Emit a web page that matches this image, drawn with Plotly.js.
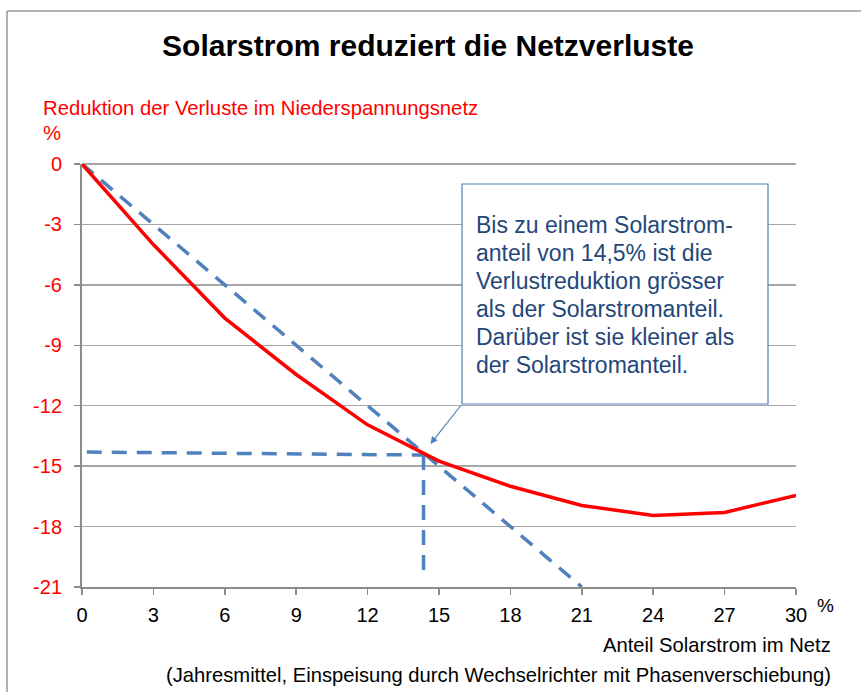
<!DOCTYPE html>
<html>
<head>
<meta charset="utf-8">
<script src="https://cdn.plot.ly/plotly-3.0.1.min.js"></script>
<style>html,body{margin:0;padding:0;background:#fff;}#chart{width:861px;height:692px;}</style>
</head>
<body>
<div id="chart"></div>
<script>
// ---- data ----
const shareX = [0, 3, 6, 9, 12, 15, 18, 21, 24, 27, 30];
const lossReduction = [0, -4.0, -7.65, -10.45, -12.95, -14.75, -16.0, -16.95, -17.45, -17.3, -16.45];
const equalLineX = [0, 21];
const equalLineY = [0, -21];
const crossHX = [0.2, 14.35];
const crossHY = [-14.3, -14.45];
const crossVX = [14.35, 14.35];
const crossVY = [-14.45, -20.6];
const xTicks = [0, 3, 6, 9, 12, 15, 18, 21, 24, 27, 30];
const yTicks = [0, -3, -6, -9, -12, -15, -18, -21];
const titleText = "Solarstrom reduziert die Netzverluste";
const yTitleText = "Reduktion der Verluste im Niederspannungsnetz";
const unitText = "%";
const xTitleText = "Anteil Solarstrom im Netz";
const xSubtitleText = "(Jahresmittel, Einspeisung durch Wechselrichter mit Phasenverschiebung)";
const noteLines = [
  "Bis zu einem Solarstrom-",
  "anteil von 14,5% ist die",
  "Verlustreduktion grösser",
  "als der Solarstromanteil.",
  "Darüber ist sie kleiner als",
  "der Solarstromanteil."
];
const noteTip = [14.64, -13.9];

// ---- layout helpers ----
const W = 861, H = 692;
const M = {l: 82, r: 65, t: 164, b: 105};
const PW = W - M.l - M.r, PH = H - M.t - M.b;
const px = x => (x - M.l) / PW;
const py = y => (H - M.b - y) / PH;
const FONT = "Liberation Sans, Arial, sans-serif";
const BLUE = "#4f81bd";
const GRID = "#a6a6a6";
const AXIS = "#8c8c8c";
const xr = [0, 30], yr = [-21, 0];
const dx = p => xr[0] + (p - M.l) / PW * (xr[1] - xr[0]);
const dy = p => yr[1] - (p - M.t) / PH * (yr[1] - yr[0]);

const traces = [
  {x: equalLineX, y: equalLineY, mode: "lines", line: {color: BLUE, width: 3.5, dash: "15px,10px"}, hoverinfo: "skip"},
  {x: crossHX, y: crossHY, mode: "lines", line: {color: BLUE, width: 3.5, dash: "15px,10px"}, hoverinfo: "skip"},
  {x: crossVX, y: crossVY, mode: "lines", line: {color: BLUE, width: 3.5, dash: "15px,10px"}, hoverinfo: "skip"},
  {x: shareX, y: lossReduction, mode: "lines", line: {color: "#ff0000", width: 3.5}, hoverinfo: "skip"}
];

const noteAnns = noteLines.map((t, i) => ({
  xref: "x", yref: "y", x: dx(474), y: dy(225 + 28 * i), xanchor: "left", yanchor: "middle",
  align: "left", showarrow: false, text: t, font: {family: FONT, size: 23, color: "#24477a"}
}));

const layout = {
  width: W, height: H,
  margin: M,
  paper_bgcolor: "#ffffff", plot_bgcolor: "#ffffff",
  showlegend: false,
  font: {family: FONT},
  title: {text: "<b>" + titleText + "</b>", font: {family: FONT, size: 30, color: "#000"},
          x: 428 / W, xanchor: "center", y: 1 - 45 / H, yanchor: "middle"},
  xaxis: {
    range: xr, tickvals: xTicks, ticktext: xTicks.map(String),
    showgrid: false, zeroline: false,
    showline: true, linecolor: AXIS, linewidth: 2,
    ticks: "outside", ticklen: 6, tickcolor: AXIS, tickwidth: 1.5,
    tickfont: {family: FONT, size: 20, color: "#000"}, ticklabelstandoff: 3
  },
  yaxis: {
    range: yr, tickvals: yTicks, ticktext: yTicks.map(String),
    showgrid: true, gridcolor: GRID, gridwidth: 1.5,
    zeroline: true, zerolinecolor: GRID, zerolinewidth: 1.5,
    showline: true, linecolor: AXIS, linewidth: 2,
    ticks: "outside", ticklen: 6, tickcolor: AXIS, tickwidth: 1.5,
    tickfont: {family: FONT, size: 20, color: "#ff0000"}, ticklabelstandoff: 8
  },
  shapes: [
    {type: "line", xref: "paper", yref: "paper", x0: px(7), x1: px(7), y0: py(H), y1: py(11), line: {color: "#999", width: 1.5}},
    {type: "line", xref: "paper", yref: "paper", x0: px(7), x1: px(W), y0: py(11), y1: py(11), line: {color: "#999", width: 1.5}},
    {type: "rect", xref: "x", yref: "y", x0: dx(462), x1: dx(768), y0: dy(184), y1: dy(404),
     line: {color: BLUE, width: 1.2}, fillcolor: "#ffffff", layer: "above"}
  ],
  annotations: [
    {xref: "paper", yref: "paper", x: px(41), y: py(108), xanchor: "left", yanchor: "middle", showarrow: false,
     text: yTitleText, font: {family: FONT, size: 20.3, color: "#ff0000"}},
    {xref: "paper", yref: "paper", x: px(41), y: py(133), xanchor: "left", yanchor: "middle", showarrow: false,
     text: unitText, font: {family: FONT, size: 20.3, color: "#ff0000"}},
    {xref: "paper", yref: "paper", x: px(815), y: py(605), xanchor: "left", yanchor: "middle", showarrow: false,
     text: unitText, font: {family: FONT, size: 19, color: "#000"}},
    {xref: "paper", yref: "paper", x: px(833), y: py(645), xanchor: "right", yanchor: "middle", showarrow: false,
     text: xTitleText, font: {family: FONT, size: 20.2, color: "#000"}},
    {xref: "paper", yref: "paper", x: px(833), y: py(675), xanchor: "right", yanchor: "middle", showarrow: false,
     text: xSubtitleText, font: {family: FONT, size: 20.2, color: "#000"}},
    ...noteAnns,
    {xref: "x", yref: "y", x: noteTip[0], y: noteTip[1], axref: "x", ayref: "y", ax: dx(462), ay: dy(404),
     text: "", showarrow: true, arrowhead: 2, arrowsize: 1.2, arrowwidth: 1.2, arrowcolor: BLUE, standoff: 0}
  ]
};

Plotly.newPlot("chart", traces, layout, {displayModeBar: false, staticPlot: true});
</script>
</body>
</html>
